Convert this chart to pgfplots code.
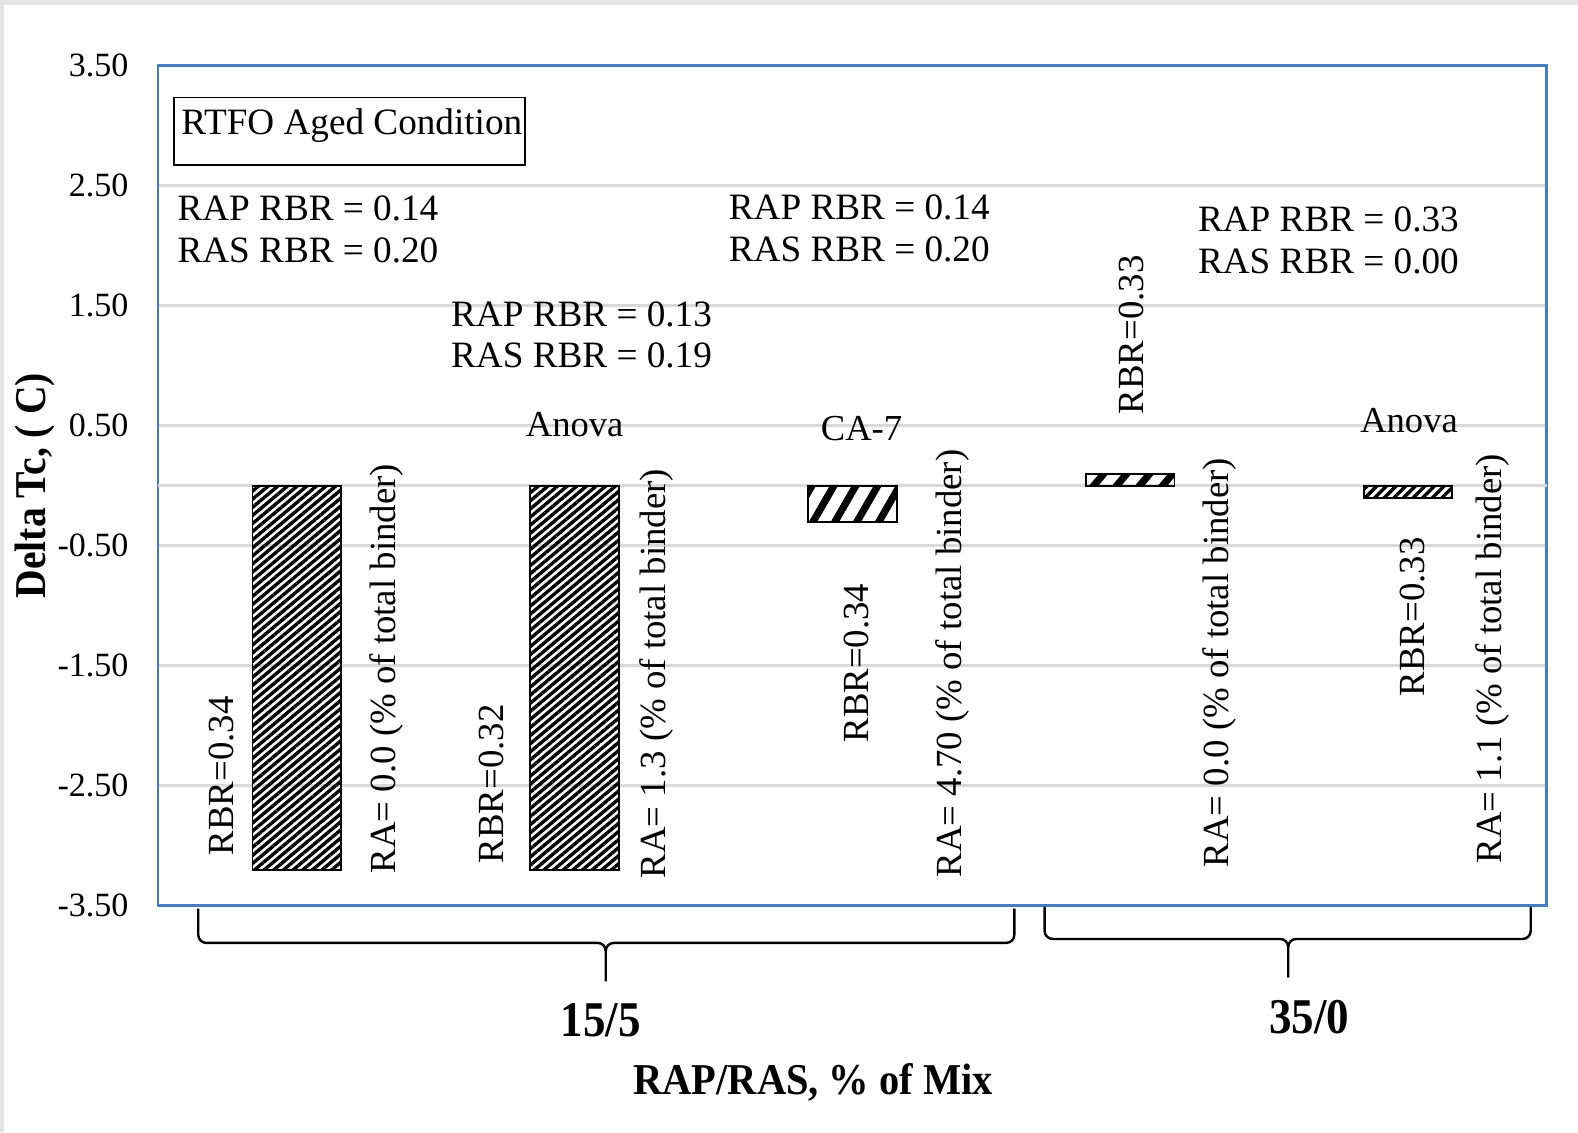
\documentclass[border=0pt]{standalone}
\usepackage{fontspec}
\setmainfont{Liberation Serif}
\usepackage{pgfplots}
\pgfplotsset{compat=1.18}
\usetikzlibrary{patterns.meta}
\definecolor{axisblue}{RGB}{74,126,187}
\definecolor{gridgray}{RGB}{217,217,217}
\definecolor{framegray}{RGB}{229,229,229}
\newcommand{\fs}[1]{\fontsize{#1pt}{#1pt}\selectfont}
% condensed bold used for the axis titles
\newcommand{\cb}[3][0.9]{\scalebox{#1}[1]{\fs{#2}\bfseries #3}}
\begin{document}
\begin{tikzpicture}
\useasboundingbox (0,0) rectangle (789pt,566pt);
\fill[white] (0,0) rectangle (789pt,566pt);
\fill[framegray] (0,0) rectangle (2.2pt,566pt);
\fill[framegray] (0,563.5pt) rectangle (789pt,566pt);
\begin{axis}[
  at={(79pt,113.15pt)}, anchor=south west,
  width=694.4pt, height=420pt, scale only axis,
  xmin=-0.5, xmax=4.5, ymin=-3.5, ymax=3.5,
  clip=false,
  xtick=\empty,
  ytick={-3.5,-2.5,-1.5,-0.5,0.5,1.5,2.5,3.5},
  extra y ticks={0}, extra y tick labels={},
  extra y tick style={grid=major},
  major tick length=0pt,
  ymajorgrids,
  grid style={gridgray, line width=1.5pt},
  axis line style={draw=axisblue, line width=1.35pt},
  yticklabel style={
    font=\fs{17}, inner sep=0pt, xshift=-14.6pt,
    /pgf/number format/fixed,
    /pgf/number format/fixed zerofill,
    /pgf/number format/precision=2,
    /pgf/number format/assume math mode=true},
]
% bars: Delta Tc for each mix
\addplot[ybar, bar width=44.3pt, bar shift=0pt, draw=black, line width=0.9pt,
  pattern={Lines[angle=40,distance=3.1pt,line width=1.7pt]}]
  coordinates {(0,-3.2)};
\addplot[ybar, bar width=44.3pt, bar shift=0pt, draw=black, line width=0.9pt,
  pattern={Lines[angle=40,distance=3.1pt,line width=1.7pt]}]
  coordinates {(1,-3.2)};
\addplot[ybar, bar width=44.3pt, bar shift=0pt, draw=black, line width=0.9pt,
  pattern={Lines[angle=60,distance=9.5pt,line width=3.6pt]}]
  coordinates {(2,-0.3)};
\addplot[ybar, bar width=44.3pt, bar shift=0pt, draw=black, line width=0.9pt,
  pattern={Lines[angle=50,distance=8.8pt,line width=3.6pt]}]
  coordinates {(3,0.1)};
\addplot[ybar, bar width=44.3pt, bar shift=0pt, draw=black, line width=0.9pt,
  pattern={Lines[angle=45,distance=3.4pt,line width=1.7pt]}]
  coordinates {(4,-0.1)};

% condition box
\draw[line width=0.8pt] (axis cs:-0.442,3.235) rectangle (axis cs:0.822,2.673);
\node[anchor=base west, inner sep=0pt, font=\fs{18.6}] at (axis cs:-0.417,2.924) {RTFO Aged Condition};

% RBR annotations
\begin{scope}[every node/.style={anchor=base west, inner sep=0pt, font=\fs{18.6}}]
\node at (axis cs:-0.431,2.207) {RAP RBR = 0.14};
\node at (axis cs:-0.431,1.863) {RAS RBR = 0.20};
\node at (axis cs:0.554,1.328) {RAP RBR = 0.13};
\node at (axis cs:0.554,0.984) {RAS RBR = 0.19};
\node at (axis cs:1.554,2.219) {RAP RBR = 0.14};
\node at (axis cs:1.554,1.867) {RAS RBR = 0.20};
\node at (axis cs:3.243,2.118) {RAP RBR = 0.33};
\node at (axis cs:3.243,1.766) {RAS RBR = 0.00};
\end{scope}

\begin{scope}[every node/.style={anchor=base, inner sep=0pt, font=\fs{18.3}}]
\node at (axis cs:1.0,0.408) {Anova};
\node at (axis cs:2.033,0.374) {CA-7};
\node at (axis cs:4.004,0.441) {Anova};
\end{scope}

\begin{scope}[every node/.style={anchor=west, rotate=90, inner sep=0pt, font=\fs{18.4}}]
\node at (axis cs:-0.272,-3.083) {RBR=0.34};
\node at (axis cs:0.699,-3.149) {RBR=0.32};
\node at (axis cs:2.014,-2.143) {RBR=0.34};
\node at (axis cs:3.004,0.592) {RBR=0.33};
\node at (axis cs:4.018,-1.757) {RBR=0.33};
\node at (axis cs:0.322,-3.232) {RA= 0.0 (\% of total binder)};
\node at (axis cs:1.293,-3.274) {RA= 1.3 (\% of total binder)};
\node at (axis cs:2.359,-3.266) {RA= 4.70 (\% of total binder)};
\node at (axis cs:3.322,-3.182) {RA= 0.0 (\% of total binder)};
\node at (axis cs:4.304,-3.149) {RA= 1.1 (\% of total binder)};
\end{scope}

% group braces below the axis
\draw[line width=1.2pt]
  (axis cs:-0.355,-3.525) -- (axis cs:-0.355,-3.743)
  to[out=-90,in=180] (axis cs:-0.326,-3.81) -- (axis cs:1.083,-3.81)
  to[out=0,in=90] (axis cs:1.112,-3.877) -- (axis cs:1.112,-4.13);
\draw[line width=1.2pt]
  (axis cs:2.583,-3.525) -- (axis cs:2.583,-3.743)
  to[out=-90,in=0] (axis cs:2.554,-3.81) -- (axis cs:1.141,-3.81)
  to[out=180,in=90] (axis cs:1.112,-3.877);
\draw[line width=1.2pt]
  (axis cs:2.692,-3.51) -- (axis cs:2.692,-3.71)
  to[out=-90,in=180] (axis cs:2.721,-3.777) -- (axis cs:3.540,-3.777)
  to[out=0,in=90] (axis cs:3.569,-3.844) -- (axis cs:3.569,-4.10);
\draw[line width=1.2pt]
  (axis cs:4.442,-3.51) -- (axis cs:4.442,-3.71)
  to[out=-90,in=0] (axis cs:4.413,-3.777) -- (axis cs:3.598,-3.777)
  to[out=180,in=90] (axis cs:3.569,-3.844);

% group and axis titles
\node[anchor=base, inner sep=0pt] at (axis cs:1.094,-4.593) {\cb{25}{15/5}};
\node[anchor=base, inner sep=0pt] at (axis cs:3.645,-4.568) {\cb{25}{35/0}};
\node[anchor=base, inner sep=0pt] at (axis cs:1.859,-5.076) {\cb[0.92]{22}{RAP/RAS, \% of Mix}};
\node[rotate=90, anchor=center, inner sep=0pt] at (axis cs:-0.942,0) {\cb{22}{Delta Tc, ( C)}};
\end{axis}
\end{tikzpicture}
\end{document}
